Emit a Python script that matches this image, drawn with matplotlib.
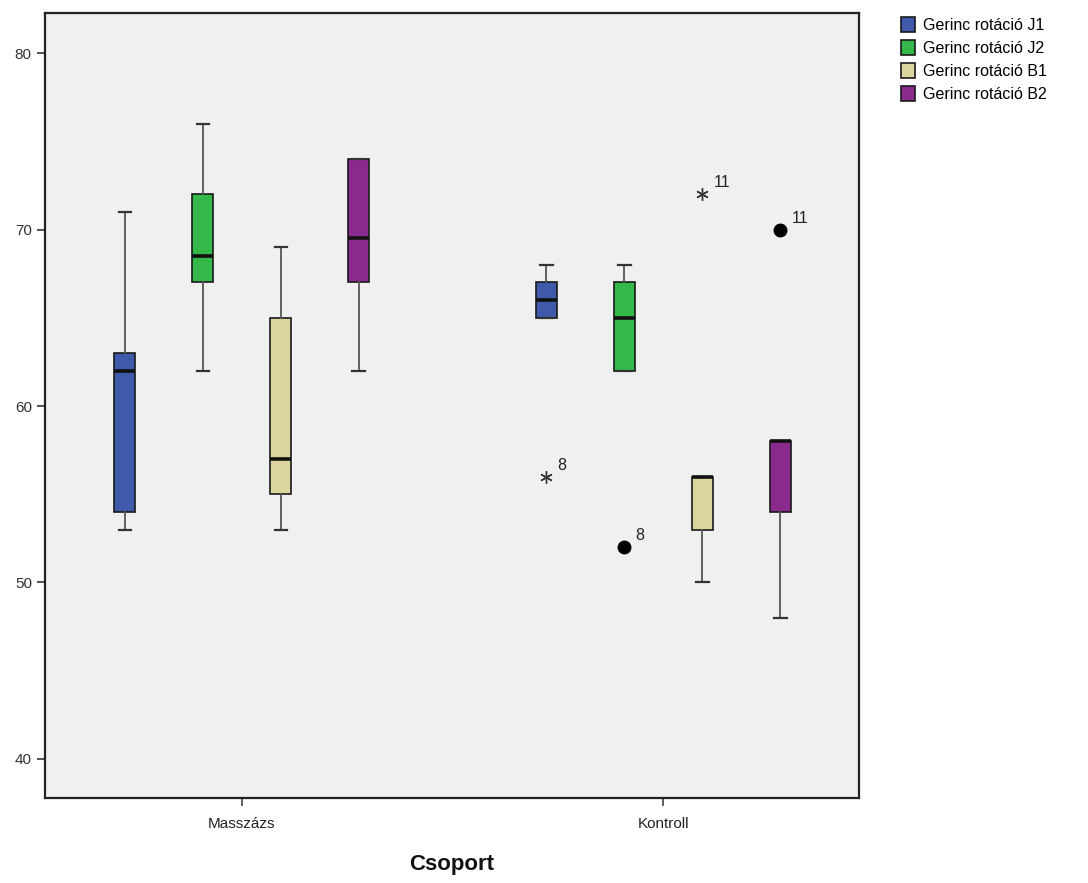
import matplotlib
matplotlib.use("Agg")
import matplotlib.pyplot as plt
from matplotlib.patches import Patch

plt.rcParams["font.family"] = ["Liberation Sans", "DejaVu Sans"]

groups = ["Masszázs", "Kontroll"]
series = ["Gerinc rotáció J1", "Gerinc rotáció J2", "Gerinc rotáció B1", "Gerinc rotáció B2"]
colors = ["#3f5aaa", "#35b84a", "#dcd59e", "#8a2a8c"]

# per series: values for [Masszázs, Kontroll]
whislo = {"J1": [53, 65], "J2": [62, 62], "B1": [53, 50], "B2": [62, 48]}
q1     = {"J1": [54, 65], "J2": [67, 62], "B1": [55, 53], "B2": [67, 54]}
med    = {"J1": [62, 66], "J2": [68.5, 65], "B1": [57, 56], "B2": [69.5, 58]}
q3     = {"J1": [63, 67], "J2": [72, 67], "B1": [65, 56], "B2": [74, 58]}
whishi = {"J1": [71, 68], "J2": [76, 68], "B1": [69, 56], "B2": [74, 58]}
keys = ["J1", "J2", "B1", "B2"]

# outliers: (series, group index, value, case label, kind)
outliers = [
    ("J1", 1, 56, "8", "*"),
    ("J2", 1, 52, "8", "o"),
    ("B1", 1, 72, "11", "*"),
    ("B2", 1, 70, "11", "o"),
]

fig = plt.figure(figsize=(10.88, 8.83), dpi=100)
ax = fig.add_axes([0.0414, 0.0963, 0.748, 0.889])
ax.set_facecolor("#f0f0f0")

offset = 0.185
width = 0.05
for si, k in enumerate(keys):
    stats = []
    positions = []
    for gi in range(len(groups)):
        stats.append(dict(whislo=whislo[k][gi], q1=q1[k][gi], med=med[k][gi],
                          q3=q3[k][gi], whishi=whishi[k][gi], fliers=[]))
        positions.append(gi + (si - 1.5) * offset)
    ax.bxp(stats, positions=positions, widths=width, patch_artist=True,
           showfliers=False, manage_ticks=False,
           boxprops=dict(facecolor=colors[si], edgecolor="#1a1a1a", linewidth=1.2),
           medianprops=dict(color="#111111", linewidth=2.6),
           whiskerprops=dict(color="#555555", linewidth=1.3),
           capprops=dict(color="#333333", linewidth=1.6),
           capwidths=width * 0.6)

for k, gi, val, lab, kind in outliers:
    si = keys.index(k)
    x = gi + (si - 1.5) * offset
    if kind == "o":
        ax.plot(x, val, "o", color="black", markersize=9)
    else:
        ax.plot(x, val, marker=(6, 2, 0), color="#333333", markersize=9,
                linestyle="none", markeredgewidth=1.0)
    ax.annotate(lab, (x, val), xytext=(8, 5), textcoords="offset points",
                fontsize=11.5, color="#222222")

ax.set_xlim(-0.467, 1.464)
ax.set_ylim(37.79, 82.27)
ax.set_xticks([0, 1])
ax.set_xticklabels(groups, fontsize=11, color="#222222")
ax.set_yticks([40, 50, 60, 70, 80])
ax.tick_params(axis="y", labelsize=11, labelcolor="#333333", length=6, width=1.2, color="#333333")
ax.tick_params(axis="x", length=6, width=1.2, color="#444444", pad=8)
for sp in ax.spines.values():
    sp.set_linewidth(1.6)
    sp.set_color("#222222")
ax.set_xlabel("Csoport", fontsize=16, fontweight="bold", labelpad=16, color="#111111")

handles = [Patch(facecolor=c, edgecolor="#1a1a1a", linewidth=1.2) for c in colors]
fig.legend(handles, series, loc="upper left", bbox_to_anchor=(0.828, 0.981),
           frameon=False, fontsize=11.5, handlelength=0.9, handleheight=1.05,
           handletextpad=0.5, labelspacing=0.45, borderaxespad=0, borderpad=0)

fig.savefig("out.png", dpi=100)
